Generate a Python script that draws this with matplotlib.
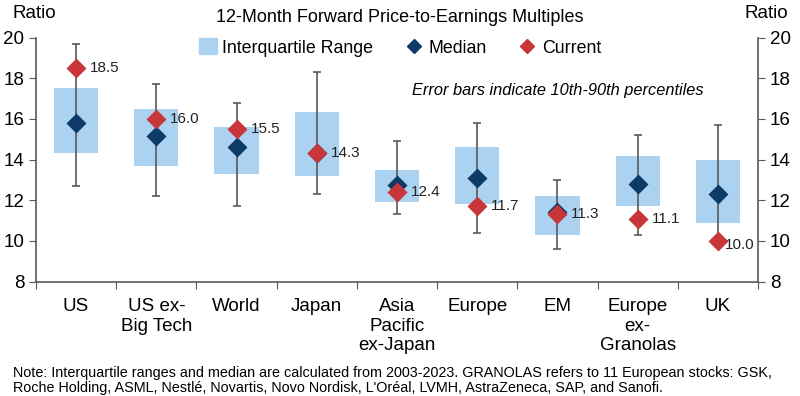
import matplotlib.pyplot as plt
import numpy as np
from matplotlib.patches import Patch
from matplotlib.lines import Line2D

categories = ["US", "US ex-\nBig Tech", "World", "Japan", "Asia\nPacific\nex-Japan",
              "Europe", "EM", "Europe\nex-\nGranolas", "UK"]
q25 = [14.3, 13.7, 13.3, 13.2, 11.9, 11.8, 10.3, 11.7, 10.9]
q75 = [17.5, 16.5, 15.6, 16.35, 13.5, 14.6, 12.2, 14.2, 14.0]
median = [15.8, 15.15, 14.6, 14.3, 12.75, 13.1, 11.4, 12.8, 12.3]
current = [18.5, 16.0, 15.5, 14.3, 12.4, 11.7, 11.3, 11.1, 10.0]
p10 = [12.7, 12.2, 11.7, 12.3, 11.3, 10.4, 9.6, 10.3, 10.0]
p90 = [19.7, 17.7, 16.8, 18.3, 14.9, 15.8, 13.0, 15.2, 15.7]

BOX = "#abd2f1"
NAVY = "#0d3a66"
RED = "#c9363a"
GREY = "#595959"

plt.rcParams['font.family'] = ['Liberation Sans', 'DejaVu Sans']

fig = plt.figure(figsize=(8, 3.96), dpi=100)
ax = fig.add_axes([0.045, 0.289, 0.9025, 0.616])

x = np.arange(len(categories))
q25 = np.array(q25)
q75 = np.array(q75)
ax.bar(x, q75 - q25, bottom=q25, width=0.55, color=BOX, zorder=1)
ax.vlines(x, p10, p90, color=GREY, lw=1.2, zorder=2)
ax.hlines(p10, x - 0.05, x + 0.05, color=GREY, lw=1.2, zorder=2)
ax.hlines(p90, x - 0.05, x + 0.05, color=GREY, lw=1.2, zorder=2)
ax.plot(x, median, 'D', color=NAVY, ms=10.5, mec='none', zorder=3)
ax.plot(x, current, 'D', color=RED, ms=10.5, mec='none', zorder=4)
for i, (xi, v) in enumerate(zip(x, current)):
    off = (10, 0) if i < len(x) - 1 else (5, -3)
    ax.annotate("%.1f" % v, (xi, v), xytext=off, textcoords='offset points',
                va='center', ha='left', fontsize=11, color='#222222')

ax.set_xlim(-0.5, 8.5)
ax.set_ylim(8, 20)
ax.set_yticks(range(8, 21, 2))
ax.tick_params(axis='y', labelsize=13.5, length=5, color=GREY, right=True, labelright=True)
ax.set_xticks(np.arange(-0.5, 9.0, 1.0))
ax.set_xticklabels([])
ax.set_xticks(x, minor=True)
ax.set_xticklabels(categories, minor=True, fontsize=13.5, linespacing=1.2)
ax.tick_params(axis='x', which='major', length=5, color=GREY)
ax.tick_params(axis='x', which='minor', length=0, pad=12)
ax.spines['top'].set_visible(False)
for s in ['left', 'right', 'bottom']:
    ax.spines[s].set_color(GREY)
    ax.spines[s].set_linewidth(1.2)

fig.text(0.015, 0.966, "Ratio", fontsize=13.5, va='center')
fig.text(0.985, 0.966, "Ratio", fontsize=13.5, va='center', ha='right')
fig.text(0.5, 0.955, "12-Month Forward Price-to-Earnings Multiples", fontsize=13,
         ha='center', va='center')
fig.text(0.515, 0.771, "Error bars indicate 10th-90th percentiles", fontsize=11.8,
         style='italic', va='center')

handles = [Patch(color=BOX), Line2D([], [], marker='D', ls='none', color=NAVY, ms=7),
           Line2D([], [], marker='D', ls='none', color=RED, ms=7)]
fig.legend(handles, ["Interquartile Range", "Median", "Current"], ncol=3,
           loc='center', bbox_to_anchor=(0.5, 0.88), frameon=False, fontsize=12.8,
           handlelength=1.0, handletextpad=0.3, columnspacing=1.8, handleheight=1.0)

fig.text(0.016, 0.04, "Note: Interquartile ranges and median are calculated from 2003-2023. "
         "GRANOLAS refers to 11 European stocks: GSK,\nRoche Holding, ASML, Nestlé, Novartis, "
         "Novo Nordisk, L'Oréal, LVMH, AstraZeneca, SAP, and Sanofi.",
         fontsize=10.4, va='center', linespacing=1.1)

fig.savefig("out.png", dpi=100)
